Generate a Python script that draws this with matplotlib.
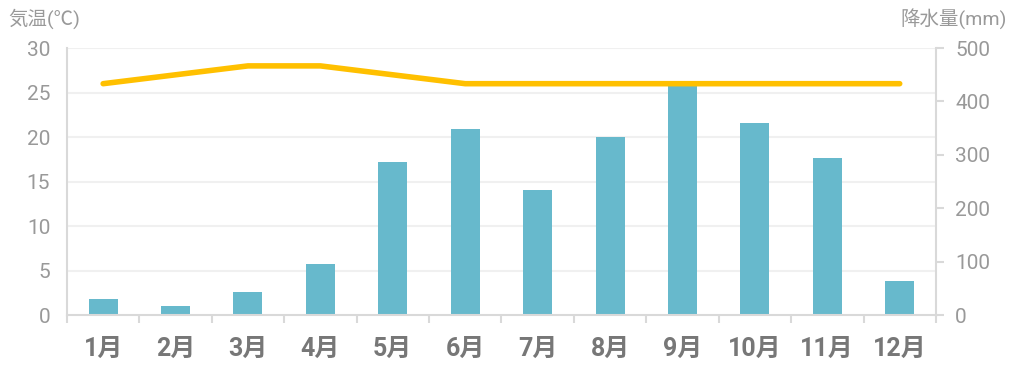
import numpy as np
import matplotlib
matplotlib.use('Agg')
import matplotlib.pyplot as plt

plt.rcParams['font.family'] = ['Roboto', 'Noto Sans CJK JP', 'DejaVu Sans']

# data
months = ['1月', '2月', '3月', '4月', '5月', '6月', '7月', '8月', '9月', '10月', '11月', '12月']
temperature = [26, 27, 28, 28, 27, 26, 26, 26, 26, 26, 26, 26]
rainfall = [30, 17, 43, 95, 287, 348, 234, 333, 431, 360, 295, 64]

fig = plt.figure(figsize=(10.14, 3.70), dpi=100)
ax = fig.add_axes([0.066, 0.1486, 0.857, 0.7214])
ax2 = ax.twinx()

x = np.arange(len(months))

# bars on right axis, line on left axis
ax2.bar(x, rainfall, width=0.4, color='#67b9cc', zorder=2)
ax2.set_ylim(0, 500)
ax2.set_yticks(np.arange(0, 501, 100))

ax.set_zorder(ax2.get_zorder() + 1)
ax.patch.set_visible(False)
ax.plot(x, temperature, color='#ffc000', lw=4, solid_capstyle='round', zorder=3)
ax.set_ylim(0, 30)
ax.set_yticks(np.arange(0, 31, 5))
ax.set_xlim(-0.5, 11.5)

# grid
for v in np.arange(5, 31, 5):
    ax2.axhline(v / 30 * 500, color='#f0f0f0', lw=1.5, zorder=0)

ax.set_xticks(x)
ax.set_xticklabels(months, fontsize=18, fontweight='bold', color='#777777')
ax.set_xticks(np.arange(-0.5, 12, 1), minor=True)
ax.tick_params(axis='x', which='major', length=0, pad=16)
ax.tick_params(axis='x', which='minor', length=6, color='#d9d9d9', width=1.5)
ax.tick_params(axis='y', length=0, labelsize=15, labelcolor='#999999', pad=12)
ax2.tick_params(axis='y', length=6, color='#d9d9d9', width=1.5, labelsize=15, labelcolor='#999999', pad=8)

for a in (ax, ax2):
    for s in a.spines.values():
        s.set_visible(False)
ax.spines['left'].set_visible(True)
ax.spines['left'].set_color('#d9d9d9')
ax.spines['left'].set_linewidth(1.5)
ax.spines['bottom'].set_visible(True)
ax.spines['bottom'].set_color('#d9d9d9')
ax.spines['bottom'].set_linewidth(1.5)
ax2.spines['right'].set_visible(True)
ax2.spines['right'].set_color('#d9d9d9')
ax2.spines['right'].set_linewidth(1.5)

fig.text(0.008, 0.95, '気温(℃)', fontsize=14, color='#999999', ha='left', va='center')
fig.text(0.993, 0.95, '降水量(mm)', fontsize=14, color='#999999', ha='right', va='center')

fig.savefig('out.png', dpi=100)
